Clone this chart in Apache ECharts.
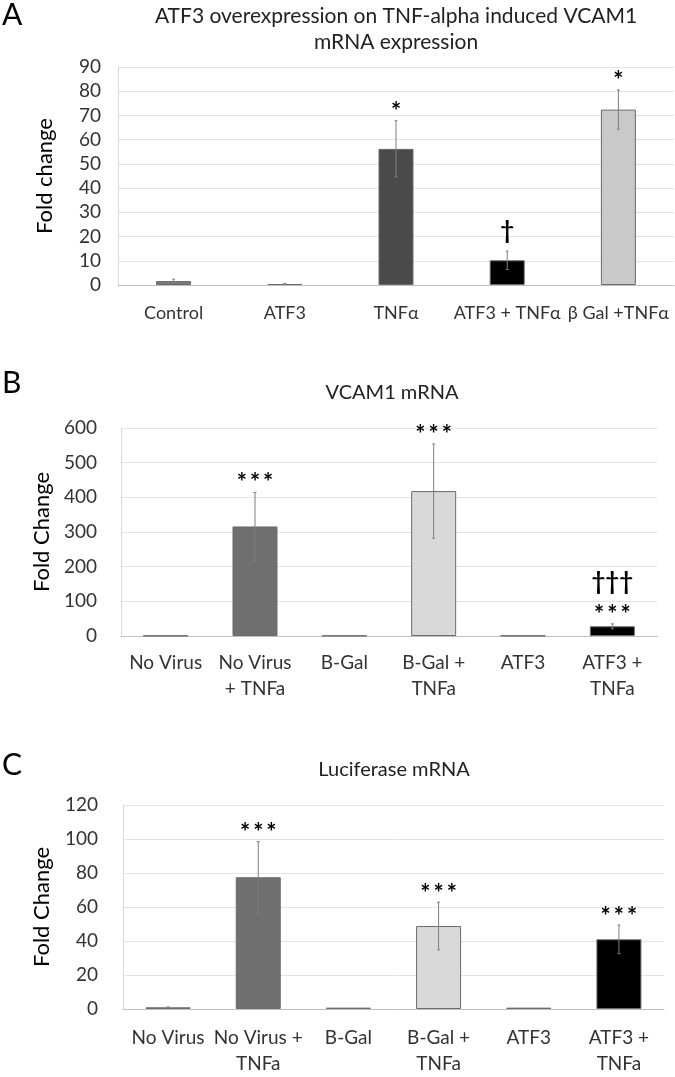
<!DOCTYPE html>
<html>
<head>
<meta charset="utf-8">
<script src="https://cdn.jsdelivr.net/npm/echarts@6/dist/echarts.min.js"></script>
<style>html,body{margin:0;padding:0;background:#fff}#c{width:675px;height:1077px}</style>
</head>
<body>
<div id="c"></div>
<script>
// ---- Panel A data ----
const catsA = ['Control', 'ATF3', 'TNFα', 'ATF3 + TNFα', 'β Gal +TNFα'];
const valsA = [1.6, 0.4, 56.2, 10.2, 72.4];
const errA  = [0.8, 0.2, 11.6, 3.8, 8.1];
const sigA  = ['', '', '*', '†', '*'];
const ticksA = [0, 90, 10];

// ---- Panel B data ----
const catsB = ['No Virus', 'No Virus\n+ TNFa', 'B-Gal', 'B-Gal +\nTNFa', 'ATF3', 'ATF3 +\nTNFa'];
const valsB = [1, 316, 1, 418, 1, 28];
const errB  = [0, 98, 0, 136, 0, 7];
const sigB  = ['', '***', '', '***', '', '***'];
const sig2B = ['', '', '', '', '', '†††'];
const ticksB = [0, 600, 100];

// ---- Panel C data ----
const catsC = ['No Virus', 'No Virus +\nTNFa', 'B-Gal', 'B-Gal +\nTNFa', 'ATF3', 'ATF3 +\nTNFa'];
const valsC = [1, 77.5, 0.8, 48.8, 0.8, 41];
const errC  = [0.2, 21, 0, 14, 0, 8.4];
const sigC  = ['', '***', '', '***', '', '***'];
const ticksC = [0, 120, 20];

const FONT = 'Lato';
const colorsA = ['#7a7a7a', '#8a8a8a', '#4a4a4a', '#000000', '#c9c9c9'];
const colorsB = ['#6f6f6f', '#6f6f6f', '#d9d9d9', '#d9d9d9', '#000000', '#000000'];

const grids = [
  {left: 118, width: 556, top: 67, height: 218},
  {left: 121, width: 536, top: 428, height: 208},
  {left: 123, width: 541, top: 805, height: 208}
];

function xAx(i, cats, margin, fs) {
  return {
    type: 'category', gridIndex: i, data: cats,
    axisTick: {show: false},
    axisLine: {lineStyle: {color: '#bfbfbf', width: 1}},
    axisLabel: {interval: 0, color: '#333', fontFamily: FONT, fontSize: fs, margin: margin, lineHeight: 26}
  };
}
function yAx(i, t, name, gap, margin) {
  return {
    type: 'value', gridIndex: i, min: t[0], max: t[1], interval: t[2],
    name: name, nameLocation: 'middle', nameRotate: 90, nameGap: gap,
    nameTextStyle: {color: '#000', fontFamily: FONT, fontSize: 22},
    axisLine: {show: true, lineStyle: {color: '#d9d9d9'}},
    axisTick: {show: false},
    splitLine: {lineStyle: {color: '#e3e3e3'}},
    axisLabel: {color: '#333', fontFamily: FONT, fontSize: 19, margin: margin}
  };
}
function barS(i, vals, colors, bw) {
  return {
    type: 'bar', xAxisIndex: i, yAxisIndex: i, barWidth: bw,
    data: vals.map((v, k) => ({value: v, itemStyle: {color: colors[k], borderColor: '#6b6b6b', borderWidth: 1}})),
    animation: false
  };
}
function spaced(s) { return s.split('').join('\u2009'); }
function errS(i, vals, errs, sig1, sig2, off1, offD, off2) {
  return {
    type: 'custom', xAxisIndex: i, yAxisIndex: i, z: 10, animation: false,
    data: vals.map((v, k) => [k, v, errs[k]]),
    encode: {x: 0, y: 1},
    renderItem: function (params, api) {
      const k = api.value(0), v = api.value(1), e = api.value(2);
      const top = api.coord([k, v + e]);
      const bot = api.coord([k, v - e]);
      const ch = [];
      const st = {stroke: '#7f7f7f', lineWidth: 1};
      if (e > 0) {
        ch.push({type: 'line', shape: {x1: top[0], y1: top[1], x2: bot[0], y2: bot[1]}, style: st});
        ch.push({type: 'line', shape: {x1: top[0] - 1.5, y1: top[1], x2: top[0] + 1.5, y2: top[1]}, style: st});
        ch.push({type: 'line', shape: {x1: bot[0] - 1.5, y1: bot[1], x2: bot[0] + 1.5, y2: bot[1]}, style: st});
      }
      const s1 = sig1[params.dataIndex];
      if (s1) {
        const isDag = s1.indexOf('†') >= 0;
        ch.push({type: 'text', style: {text: spaced(s1), x: top[0], y: top[1] - (isDag ? offD : off1),
          align: 'center', verticalAlign: 'middle', font: 'bold 24px ' + FONT, fill: '#000'}});
      }
      const s2 = sig2 ? sig2[params.dataIndex] : '';
      if (s2) {
        ch.push({type: 'text', style: {text: s2, x: top[0], y: top[1] - off2, align: 'center', verticalAlign: 'middle',
          font: 'bold 24px ' + FONT, fill: '#000'}});
      }
      return {type: 'group', children: ch};
    }
  };
}

const chart = echarts.init(document.getElementById('c'), null, {renderer: 'canvas'});
chart.setOption({
  backgroundColor: '#fff',
  animation: false,
  grid: grids,
  xAxis: [xAx(0, catsA, 15, 18), xAx(1, catsB, 14, 19), xAx(2, catsC, 16, 19)],
  yAxis: [yAx(0, ticksA, 'Fold change', 62, 17), yAx(1, ticksB, 'Fold Change', 68, 24), yAx(2, ticksC, 'Fold Change', 70, 25)],
  series: [
    barS(0, valsA, colorsA, 35),
    barS(1, valsB, colorsB, 45),
    barS(2, valsC, colorsB, 45),
    errS(0, valsA, errA, sigA, null, 9, 20, 0),
    errS(1, valsB, errB, sigB, sig2B, 9, 0, 42),
    errS(2, valsC, errC, sigC, null, 8, 0, 0)
  ],
  graphic: [
    {type: 'text', left: 2, top: 0, style: {text: 'A', font: '30px ' + FONT, fill: '#000'}},
    {type: 'text', left: 2, top: 368, style: {text: 'B', font: '30px ' + FONT, fill: '#000'}},
    {type: 'text', left: 2, top: 750, style: {text: 'C', font: '30px ' + FONT, fill: '#000'}},
    {type: 'text', x: 396, y: 16, style: {text: 'ATF3 overexpression on TNF-alpha induced VCAM1', font: '21px ' + FONT, fill: '#222', align: 'center', verticalAlign: 'middle'}},
    {type: 'text', x: 396, y: 42, style: {text: 'mRNA expression', font: '21px ' + FONT, fill: '#222', align: 'center', verticalAlign: 'middle'}},
    {type: 'text', x: 392, y: 393, style: {text: 'VCAM1 mRNA', font: '20px ' + FONT, fill: '#222', align: 'center', verticalAlign: 'middle'}},
    {type: 'text', x: 394, y: 770, style: {text: 'Luciferase mRNA', font: '20px ' + FONT, fill: '#222', align: 'center', verticalAlign: 'middle'}}
  ]
});
</script>
</body>
</html>
